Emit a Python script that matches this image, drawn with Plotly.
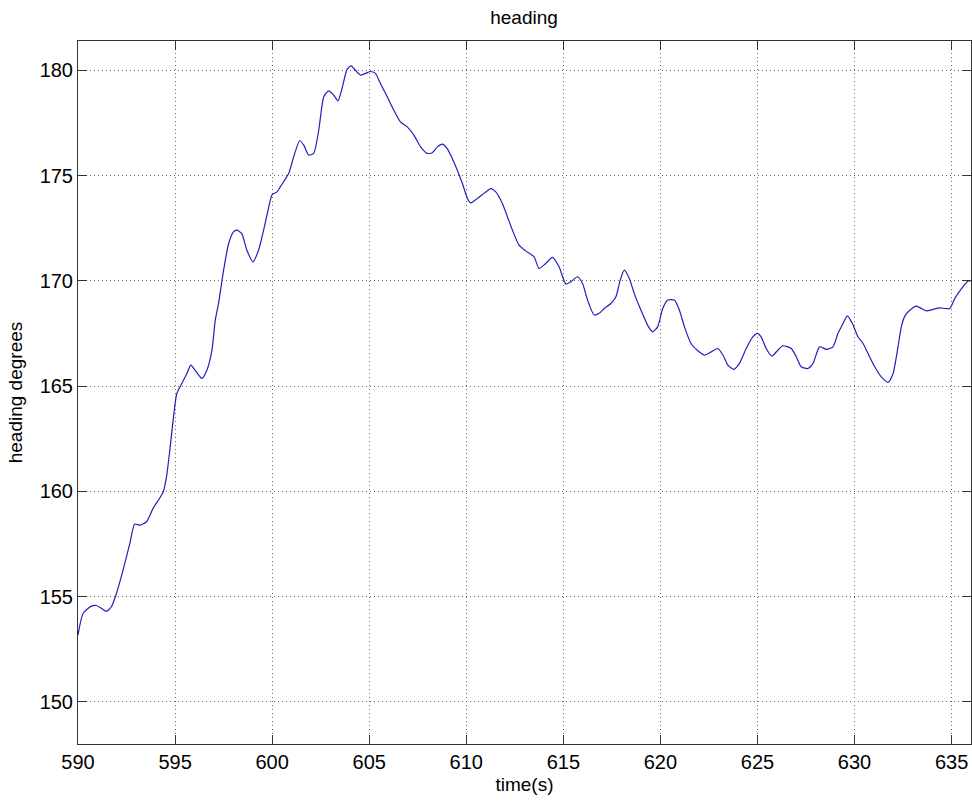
import plotly.graph_objects as go

time_s = [590.0, 590.26, 590.69, 590.95, 591.2, 591.46, 591.72, 591.98, 592.32, 592.67,
          592.92, 593.2, 593.53, 593.87, 594.22, 594.39, 594.56, 594.73, 594.92, 595.09,
          595.35, 595.61, 595.81, 596.03, 596.38, 596.64, 596.9, 597.07, 597.24, 597.5,
          597.76, 598.01, 598.19, 598.43, 598.7, 599.01, 599.3, 599.56, 599.8, 600.0,
          600.25, 600.42, 600.85, 601.11, 601.42, 601.63, 601.88, 602.14, 602.4, 602.66,
          602.91, 603.17, 603.39, 603.6, 603.86, 604.07, 604.29, 604.55, 604.81, 605.07,
          605.32, 605.58, 605.93, 606.27, 606.61, 606.96, 607.3, 607.65, 607.99, 608.25,
          608.51, 608.77, 609.02, 609.28, 609.54, 609.8, 610.06, 610.23, 610.57, 610.91,
          611.26, 611.52, 611.86, 612.12, 612.38, 612.72, 613.06, 613.49, 613.75, 614.09,
          614.44, 614.78, 615.13, 615.39, 615.73, 615.99, 616.25, 616.59, 616.85, 617.11,
          617.45, 617.71, 617.93, 618.14, 618.4, 618.65, 619.0, 619.34, 619.6, 619.86,
          620.12, 620.38, 620.72, 620.98, 621.24, 621.58, 621.93, 622.27, 622.62, 622.96,
          623.22, 623.48, 623.78, 624.07, 624.42, 624.76, 625.0, 625.19, 625.45, 625.74,
          626.05, 626.31, 626.74, 627.0, 627.25, 627.6, 627.86, 628.2, 628.55, 628.89,
          629.15, 629.41, 629.63, 629.89, 630.18, 630.44, 630.69, 631.04, 631.38, 631.73,
          631.99, 632.24, 632.41, 632.59, 632.85, 633.19, 633.45, 633.71, 634.05, 634.39,
          634.68, 634.91, 635.17, 635.51, 635.86, 636.0]

heading_deg = [153.17, 154.2, 154.55, 154.58, 154.45, 154.3, 154.52, 155.15, 156.26, 157.53,
               158.45, 158.4, 158.56, 159.2, 159.7, 159.98, 160.7, 161.96, 163.54, 164.65,
               165.13, 165.6, 166.0, 165.76, 165.37, 165.76, 166.71, 168.14, 168.93, 170.51,
               171.78, 172.33, 172.41, 172.26, 171.46, 170.91, 171.46, 172.41, 173.4, 174.1,
               174.23, 174.47, 175.1, 175.9, 176.66, 176.45, 175.98, 176.06, 177.16, 178.75,
               179.03, 178.83, 178.56, 179.14, 180.05, 180.22, 180.01, 179.78, 179.86, 179.95,
               179.86, 179.38, 178.75, 178.11, 177.56, 177.32, 176.93, 176.37, 176.06, 176.09,
               176.37, 176.5, 176.29, 175.82, 175.26, 174.63, 173.92, 173.71, 173.92, 174.16,
               174.39, 174.23, 173.68, 173.05, 172.41, 171.7, 171.43, 171.15, 170.59, 170.83,
               171.12, 170.67, 169.85, 169.96, 170.2, 169.88, 169.09, 168.38, 168.46, 168.69,
               168.93, 169.25, 170.04, 170.51, 170.12, 169.41, 168.61, 167.9, 167.58, 167.82,
               168.69, 169.09, 169.09, 168.61, 167.82, 167.03, 166.68, 166.48, 166.63, 166.79,
               166.48, 166.0, 165.8, 166.08, 166.79, 167.34, 167.51, 167.34, 166.79, 166.43,
               166.71, 166.92, 166.79, 166.4, 165.92, 165.84, 166.08, 166.87, 166.75, 166.87,
               167.51, 167.98, 168.34, 167.98, 167.34, 167.03, 166.56, 165.92, 165.44, 165.18,
               165.61, 166.87, 167.82, 168.33, 168.61, 168.8, 168.69, 168.58, 168.65, 168.72,
               168.69, 168.69, 169.17, 169.64, 170.0, 170.02]

x_ticks = [590, 595, 600, 605, 610, 615, 620, 625, 630, 635]
y_ticks = [150, 155, 160, 165, 170, 175, 180]

FONT = "Liberation Sans, Arial, sans-serif"

fig = go.Figure()
fig.add_trace(go.Scatter(
    x=time_s, y=heading_deg, mode="lines",
    line=dict(color="#2020b8", width=1.2, shape="spline", smoothing=0.6),
    showlegend=False, hoverinfo="skip",
))

axis_common = dict(
    showline=True, linecolor="#333333", linewidth=1, mirror="ticks",
    ticks="inside", ticklen=9, tickcolor="#333333", tickwidth=1,
    showgrid=True, gridcolor="#666666", gridwidth=1, griddash="1px,3px",
    zeroline=False, automargin=False,
    tickfont=dict(family=FONT, size=20, color="black"),
)

fig.update_layout(
    width=972, height=801,
    margin=dict(l=78, r=1, t=41, b=57, autoexpand=False),
    paper_bgcolor="white", plot_bgcolor="white",
    title=dict(text="heading", x=524 / 972, xanchor="center", y=1 - 17 / 801,
               yanchor="middle", yref="container", automargin=False,
               font=dict(family=FONT, size=19, color="black")),
    xaxis=dict(range=[590, 636], tickvals=x_ticks,
               title=dict(text="time(s)", standoff=5,
                          font=dict(family=FONT, size=19, color="black")),
               **axis_common),
    yaxis=dict(range=[148, 181.4], tickvals=y_ticks, ticklabelstandoff=0,
               title=dict(text="heading degrees", standoff=11,
                          font=dict(family=FONT, size=19, color="black")),
               **axis_common),
)

# remove the default page margin so the figure fills the window exactly
fig.write_html("out.html", config={"displayModeBar": False},
               post_script="document.body.style.margin='0px';")
